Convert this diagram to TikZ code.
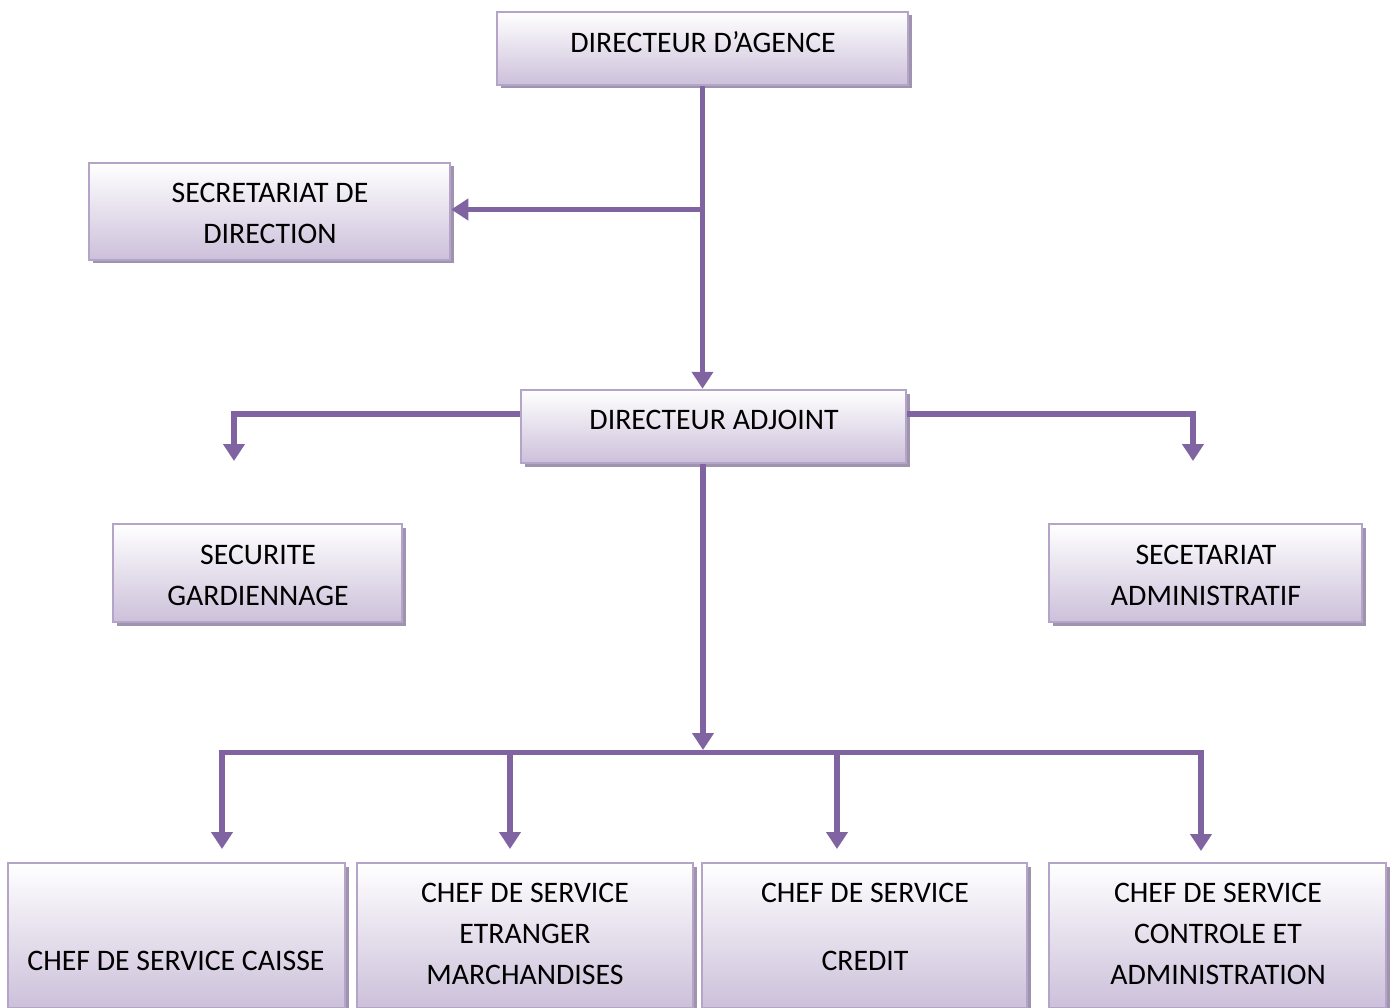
\documentclass[tikz,border=0pt]{standalone}
\usepackage{fontspec}
\setmainfont{Carlito}
\usetikzlibrary{arrows.meta,shadows}
\definecolor{lineC}{HTML}{8064A2}
\definecolor{borderC}{HTML}{B4A5C8}
\definecolor{fillC}{HTML}{CCC0DA}
\definecolor{shadowC}{HTML}{A093AF}
\tikzset{
  box/.style={draw=borderC, line width=2.5pt, top color=white, bottom color=fillC,
    inner sep=0pt, drop shadow={shadow xshift=3.5pt, shadow yshift=-3.5pt, fill=shadowC, opacity=1}},
  txt/.style={inner sep=0pt, align=center, font=\fontsize{29.8}{41}\selectfont},
  link/.style={draw=lineC, line width=5.5pt},
  arr/.style={link, -{Triangle[width=21pt,length=17pt]}},
}
\begin{document}
\begin{tikzpicture}[x=1pt,y=-1pt]
\useasboundingbox (0,0) rectangle (1394,1008);
% boxes
\node[box, minimum width=411, minimum height=73] (da) at (702.5,48.5) {};
\node[box, minimum width=361, minimum height=97] (sd) at (269.5,211.5) {};
\node[box, minimum width=385, minimum height=73] (adj) at (713.5,426.5) {};
\node[box, minimum width=289, minimum height=98] (sg) at (257.5,573) {};
\node[box, minimum width=313, minimum height=98] (sa) at (1205.5,573) {};
\node[box, minimum width=337, minimum height=145] (c1) at (176.5,935.5) {};
\node[box, minimum width=336, minimum height=145] (c2) at (525,935.5) {};
\node[box, minimum width=325, minimum height=145] (c3) at (864.5,935.5) {};
\node[box, minimum width=337, minimum height=145] (c4) at (1217.5,935.5) {};
% texts
\node[txt] (tda) at (703,42) {DIRECTEUR D’AGENCE};
\node[txt] (tsd) at (270,213.5) {SECRETARIAT DE\\DIRECTION};
\node[txt] (tadj) at (714,420) {DIRECTEUR ADJOINT};
\node[txt] (tsg) at (258,575) {SECURITE\\GARDIENNAGE};
\node[txt] (tsa) at (1206,575) {SECETARIAT\\ADMINISTRATIF};
\node[txt] (tc1) at (176,961) {CHEF DE SERVICE CAISSE};
\node[txt] (tc2) at (525,934) {CHEF DE SERVICE\\ETRANGER\\MARCHANDISES};
\node[txt] (tc3) at (865,927) {CHEF DE SERVICE\\[27pt]CREDIT};
\node[txt] (tc4) at (1218,934) {CHEF DE SERVICE\\CONTROLE ET\\ADMINISTRATION};
% connectors
\coordinate (j1) at (703,209.5);
\coordinate (l1) at (234,461);
\coordinate (r1) at (1193,461);
\coordinate (m1) at (703,750);
\coordinate (bl) at (222,752.5);
\coordinate (br) at (1201,752.5);
\coordinate (d1) at (222,849);
\coordinate (d2) at (510,849);
\coordinate (d3) at (837,849);
\coordinate (d4) at (1201,851);
\draw[arr] (da.south) -- (da.south |- adj.north);
\draw[arr] (j1) -- (sd.east |- j1);
\draw[arr] ([yshift=12.5pt]adj.west) -| (l1);
\draw[arr] ([yshift=12.5pt]adj.east) -| (r1);
\draw[arr] (adj.south -| m1) -- (m1);
\draw[link] ([xshift=-2.75pt]bl) -- ([xshift=2.75pt]br);
\draw[arr] (bl) -- (d1);
\draw[arr] (bl -| d2) -- (d2);
\draw[arr] (bl -| d3) -- (d3);
\draw[arr] (br) -- (d4);
\end{tikzpicture}
\end{document}
